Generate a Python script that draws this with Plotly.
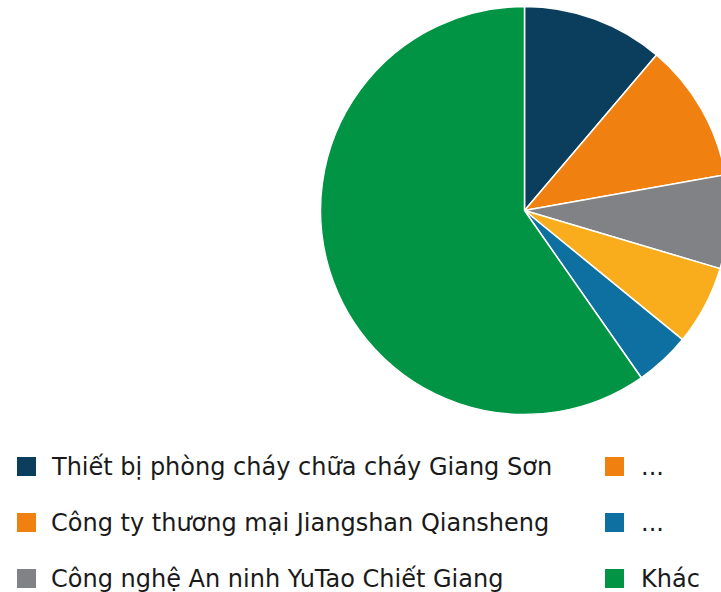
import plotly.graph_objects as go

# ---- data ----
labels = [
    "Thiết bị phòng cháy chữa cháy Giang Sơn",
    "Công ty thương mại Jiangshan Qiansheng",
    "Công nghệ An ninh YuTao Chiết Giang",
    "...",
    "...",
    "Khác",
]
values = [11.2, 11.0, 7.4, 6.3, 4.4, 59.7]
slice_colors = ["#0a3e5c", "#f0800f", "#818285", "#f9ad1d", "#0e70a0", "#009444"]
legend_colors = ["#0a3e5c", "#f0800f", "#818285", "#f0800f", "#0e70a0", "#009444"]

# ---- layout geometry (pixels) ----
W, H = 740, 592
cx, cy, r = 524.5, 210.5, 204

fig = go.Figure()
fig.add_trace(go.Pie(
    labels=[f"s{i}" for i in range(len(values))],
    values=values,
    hovertext=labels,
    hoverinfo="text+percent",
    sort=False,
    direction="clockwise",
    rotation=0,
    textinfo="none",
    marker=dict(colors=slice_colors, line=dict(color="white", width=1.5)),
    domain=dict(x=[(cx - r) / W, (cx + r) / W], y=[1 - (cy + r) / H, 1 - (cy - r) / H]),
    showlegend=False,
))

# custom legend: 2 columns x 3 rows
col_sq_x = [17, 605]
col_tx_x = [51, 641]
row_y = [466.5, 522.5, 578.5]
sq = 19
shapes = []
annotations = []
for i, (lab, col) in enumerate(zip(labels, legend_colors)):
    c, rr = divmod(i, 3)
    x0 = col_sq_x[c]
    yc = row_y[rr]
    shapes.append(dict(type="rect", xref="paper", yref="paper",
                       x0=x0 / W, x1=(x0 + sq) / W,
                       y0=1 - (yc + sq / 2) / H, y1=1 - (yc - sq / 2) / H,
                       fillcolor=col, line=dict(width=0)))
    annotations.append(dict(text=lab, xref="paper", yref="paper",
                            x=col_tx_x[c] / W, y=1 - yc / H,
                            xanchor="left", yanchor="middle", showarrow=False,
                            borderpad=0, borderwidth=0,
                            font=dict(family="DejaVu Sans", size=24, color="#1a1a1a")))

fig.update_layout(
    width=W, height=H,
    margin=dict(l=0, r=0, t=0, b=0),
    paper_bgcolor="white", plot_bgcolor="white",
    shapes=shapes, annotations=annotations,
)

fig.write_html(
    "out.html",
    config={"displayModeBar": False},
    post_script="document.body.style.margin='0';document.body.style.overflow='hidden';",
)
